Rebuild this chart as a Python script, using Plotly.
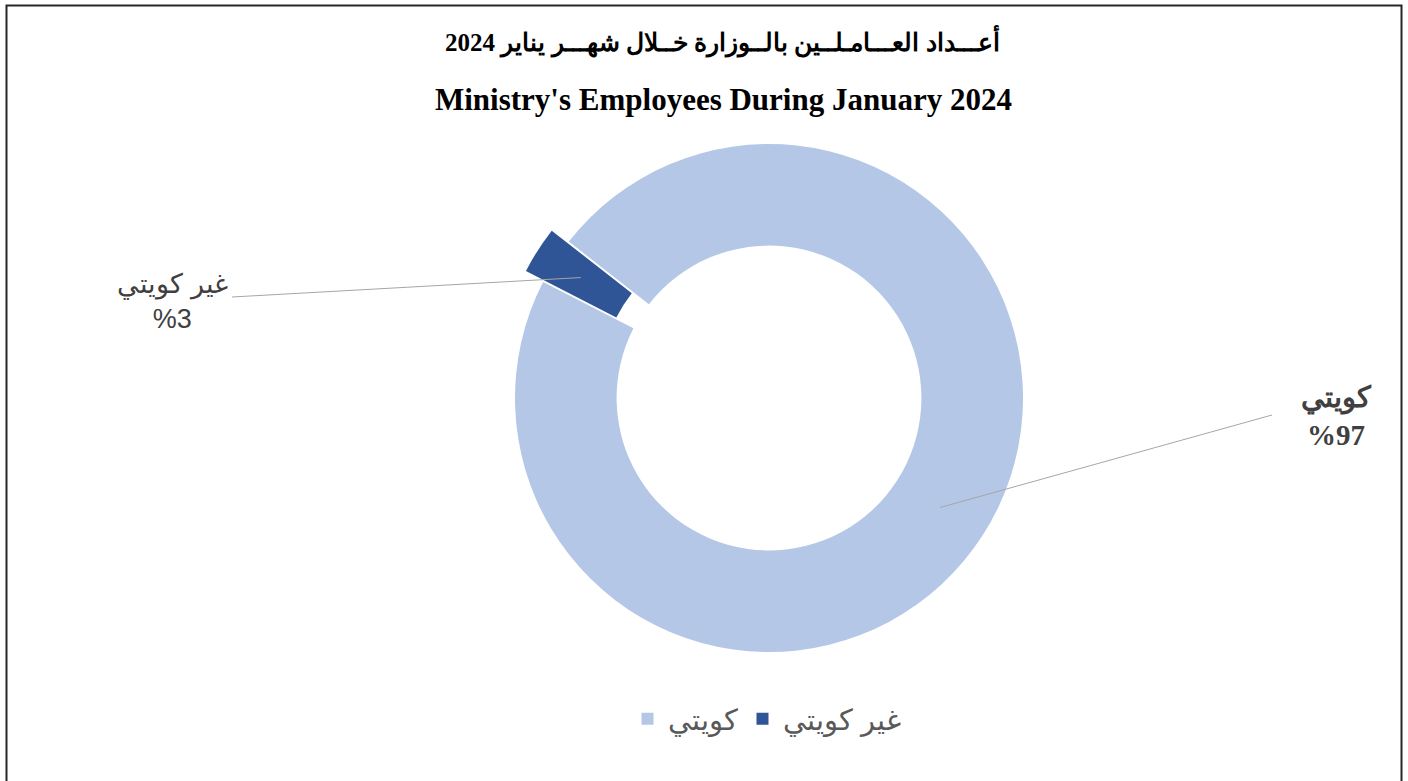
import math
import plotly.graph_objects as go

W, H = 1408, 781

labels = ["كويتي", "غير كويتي"]
values = [97, 3]
colors = ["#B4C7E7", "#2F5597"]
pulls = [0, 0.08]
title_ar = "أعـــداد العـــامـلــين بالــوزارة خــلال شهـــر يناير 2024"
title_en = "Ministry's Employees During January 2024"

ROT = 308
HOLE = 0.6
CX, CY, R = 769, 398, 254


def px(x):
    return x / W


def py(y):
    return 1 - y / H


side = 2 * R * (1 + max(pulls))
dom_x = [px(CX - side / 2), px(CX + side / 2)]
dom_y = [py(CY + side / 2), py(CY - side / 2)]

fig = go.Figure()
fig.add_trace(go.Pie(
    labels=labels, values=values, sort=False, direction="clockwise",
    rotation=ROT, hole=HOLE, pull=pulls, textinfo="none", hoverinfo="label+percent",
    marker=dict(colors=colors, line=dict(color="white", width=0)),
    domain=dict(x=dom_x, y=dom_y),
))

# leader anchor points from slice geometry
total = sum(values)
cum = 0
anchors = []
for v, p in zip(values, pulls):
    mid = ROT + (cum + v / 2) / total * 360
    cum += v
    rr = R * (1 + HOLE) / 2 + p * R
    a = math.radians(mid)
    anchors.append((CX + rr * math.sin(a), CY - rr * math.cos(a)))

shapes = []
ax, ay = anchors[0]
shapes.append(dict(type="line", xref="paper", yref="paper", x0=px(ax), y0=py(ay),
                   x1=px(1272), y1=py(415), line=dict(color="#A6A6A6", width=1)))
ax, ay = anchors[1]
shapes.append(dict(type="line", xref="paper", yref="paper", x0=px(ax), y0=py(ay),
                   x1=px(232), y1=py(297), line=dict(color="#A6A6A6", width=1)))
shapes.append(dict(type="rect", xref="paper", yref="paper", x0=px(6.5), y0=py(800),
                   x1=px(1401.5), y1=py(5.5), line=dict(color="#262626", width=2)))

pct = [round(v / total * 100) for v in values]


def ann(text, x, y, family, size, color):
    return dict(text=text, x=px(x), y=py(y), xref="paper", yref="paper",
                xanchor="center", yanchor="middle", showarrow=False,
                font=dict(family=family, size=size, color=color))


annotations = [
    ann("<b>" + title_ar + "</b>", 722, 41, "Liberation Serif", 25, "#000000"),
    ann("<b>" + title_en + "</b>", 723, 100, "Liberation Serif", 31, "#000000"),
    ann("<b>" + labels[0] + "<br>%" + str(pct[0]) + "</b>", 1336, 416,
        "Liberation Serif", 29, "#404040"),
    ann(labels[1] + "<br>%" + str(pct[1]), 172, 301, "Liberation Sans", 27, "#404040"),
]

fig.update_layout(
    width=W, height=H, margin=dict(l=0, r=0, t=0, b=0),
    paper_bgcolor="white", plot_bgcolor="white",
    shapes=shapes, annotations=annotations,
    showlegend=True,
    legend=dict(orientation="h", x=px(767), xanchor="center", y=py(719), yanchor="middle",
                font=dict(family="Liberation Sans", size=29, color="#595959"),
                itemsizing="constant"),
)

fig.write_html("out.html", config={"displayModeBar": False},
               post_script="document.body.style.margin='0';")
